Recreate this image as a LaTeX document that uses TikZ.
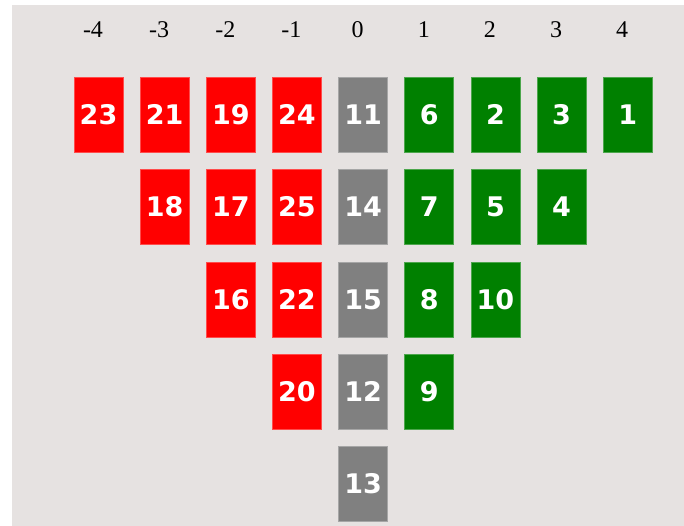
\documentclass[tikz,border=0pt]{standalone}
\usepackage{fontspec}
\setmainfont{Liberation Serif}
\newfontfamily\boxfont{DejaVu Sans}
\definecolor{bgc}{HTML}{E6E2E1}
\definecolor{redc}{HTML}{FF0000}
\definecolor{greenc}{HTML}{008000}
\definecolor{grayc}{HTML}{808080}
\tikzset{
  card/.style={minimum width=49pt, minimum height=75pt, inner sep=0pt, line width=0.6pt,
    font=\boxfont\bfseries\fontsize{27}{27}\selectfont, text=white},
  redcard/.style={card, fill=redc, draw=redc!70!white},
  greencard/.style={card, fill=greenc, draw=greenc!70!white},
  graycard/.style={card, fill=grayc, draw=grayc!70!white},
  collabel/.style={font=\fontsize{24}{24}\selectfont, anchor=base, inner sep=0pt}
}
\begin{document}
\begin{tikzpicture}[x=1pt,y=-1pt]
\useasboundingbox (0,0) rectangle (684,526);
\fill[white] (0,0) rectangle (684,526);
\fill[bgc] (12,5) rectangle (684,526);
\def\cx#1{98.5+66.15*(#1+4)}
\def\ry#1{114.7+92.35*#1}
% column labels
\foreach \c/\t in {-4/-4,-3/-3,-2/-2,-1/-1,0/0,1/1,2/2,3/3,4/4}
  \node[collabel] (lab\c) at ({\cx{\c}-5.5},38) {\t};
% cards: column/row/number/style
\foreach \c/\r/\n/\s in {
  -4/0/23/redcard,
  -3/0/21/redcard, -3/1/18/redcard,
  -2/0/19/redcard, -2/1/17/redcard, -2/2/16/redcard,
  -1/0/24/redcard, -1/1/25/redcard, -1/2/22/redcard, -1/3/20/redcard,
  0/0/11/graycard, 0/1/14/graycard, 0/2/15/graycard, 0/3/12/graycard, 0/4/13/graycard,
  1/0/6/greencard, 1/1/7/greencard, 1/2/8/greencard, 1/3/9/greencard,
  2/0/2/greencard, 2/1/5/greencard, 2/2/10/greencard,
  3/0/3/greencard, 3/1/4/greencard,
  4/0/1/greencard}
  \node[\s] (n\n) at ({\cx{\c}},{\ry{\r}}) {\n};
\end{tikzpicture}
\end{document}
